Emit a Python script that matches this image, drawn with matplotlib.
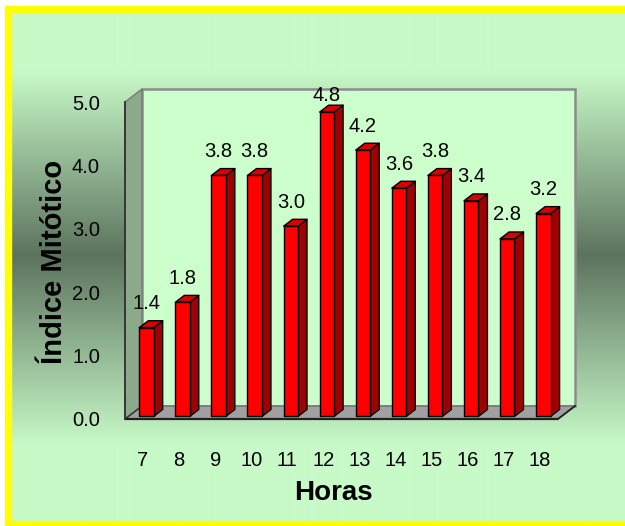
import numpy as np
import matplotlib
matplotlib.use("Agg")
import matplotlib.pyplot as plt
from matplotlib.patches import Polygon, Rectangle

plt.rcParams['font.family'] = ['Liberation Sans', 'DejaVu Sans']

# ---- data ----
horas = [7, 8, 9, 10, 11, 12, 13, 14, 15, 16, 17, 18]
indice = [1.4, 1.8, 3.8, 3.8, 3.0, 4.8, 4.2, 3.6, 3.8, 3.4, 2.8, 3.2]
y_ticks = [0.0, 1.0, 2.0, 3.0, 4.0, 5.0]
x_title = "Horas"
y_title = "Índice Mitótico"

W, H = 625, 526
fig = plt.figure(figsize=(W / 100, H / 100), dpi=100, facecolor='white')

# ---- background panel (pixel coordinates) ----
bg = fig.add_axes([0, 0, 1, 1], zorder=0)
bg.set_xlim(0, W)
bg.set_ylim(H, 0)
bg.axis('off')

rows = np.arange(H)
light = np.array([200, 250, 200]) / 255
dark = np.array([92, 115, 94]) / 255
t = np.interp(rows, [0, 70, 255, 445, H], [0, 0, 1, 0, 0])
grad = light[None, :] * (1 - t[:, None]) + dark[None, :] * t[:, None]
bg.imshow(grad[:, None, :], extent=(5, W, H, 0), aspect='auto',
          interpolation='bilinear', zorder=0)
bg.add_patch(Rectangle((0, 0), W, 6, color='white', zorder=1))
bg.add_patch(Rectangle((5, 6), W, 6, color='#ffff00', zorder=2))
bg.add_patch(Rectangle((5, 6), 6, H, color='#ffff00', zorder=2))
bg.add_patch(Rectangle((5, 521), W, 6, color='#ffff00', zorder=2))

bg.text(333, 500, x_title, ha='center', va='baseline', fontsize=20,
        fontweight='bold', zorder=3)
bg.text(62.5, 262, y_title, rotation=90, rotation_mode='anchor',
        ha='center', va='baseline', fontsize=21, fontweight='bold', zorder=3)

# ---- chart axes (front plane) ----
ax = fig.add_axes([125 / W, 1 - 419 / H, 433 / W, 317 / H], zorder=1)
n = len(horas)
ax.set_xlim(-0.5, n - 0.5)
ax.set_ylim(y_ticks[0], y_ticks[-1])
ax.patch.set_visible(False)
for s in ax.spines.values():
    s.set_visible(False)
ax.set_xticks(range(n), [str(h) for h in horas])
ax.set_yticks(y_ticks, [f"{v:.1f}" for v in y_ticks])
ax.tick_params(length=0, labelsize=14.5)
ax.tick_params(axis='y', pad=18)
ax.tick_params(axis='x', pad=23)

# pixel size of one data unit, for the oblique depth offset
p0 = ax.transData.transform((0, 0))
p1 = ax.transData.transform((1, 1))
ux, uy = p1 - p0
DX, DY = 17, 13  # full depth offset in pixels


def P(x, v, d):
    return (x + d * DX / ux, v + d * DY / uy)


x0, x1 = -0.5, n - 0.5
v0, v1 = y_ticks[0], y_ticks[-1]

# back wall
ax.add_patch(Polygon([P(x0, v0, 1), P(x1, v0, 1), P(x1, v1, 1), P(x0, v1, 1)],
                     closed=True, fc='#ccffcc', ec='#8c8c8c', lw=1.8,
                     clip_on=False, zorder=1))
# side wall
ax.add_patch(Polygon([P(x0, v0, 0), P(x0, v0, 1), P(x0, v1, 1), P(x0, v1, 0)],
                     closed=True, fc='#8aaa8a', ec='#7a7a7a', lw=1.0,
                     clip_on=False, zorder=1.1))
# floor
ax.add_patch(Polygon([P(x0, v0, 0), P(x1, v0, 0), P(x1, v0, 1), P(x0, v0, 1)],
                     closed=True, fc='#a0a0a0', ec='#707070', lw=1.0,
                     clip_on=False, zorder=1.2))
# dark front edges
ax.plot([x0, x1], [v0, v0], color='#202020', lw=1.6, clip_on=False, zorder=1.3,
        solid_capstyle='butt')
ax.plot([x0, x0], [v0, v1], color='#303030', lw=1.3, clip_on=False, zorder=1.3)
ax.plot(*zip(P(x1, v0, 0), P(x1, v0, 1)), color='#202020', lw=1.3,
        clip_on=False, zorder=1.3)
ax.plot(*zip(P(x0, v0, 0), P(x0, v0, 1)), color='#303030', lw=1.0,
        clip_on=False, zorder=1.3)

# bars
hw = 0.2            # half width of the front face (category units)
d0, d1 = 0.2, 0.73  # depth span of each bar
label_max = v1 + 1.3 / uy
for i, v in enumerate(indice):
    front = [P(i - hw, 0, d0), P(i + hw, 0, d0), P(i + hw, v, d0), P(i - hw, v, d0)]
    side = [P(i + hw, 0, d0), P(i + hw, 0, d1), P(i + hw, v, d1), P(i + hw, v, d0)]
    top = [P(i - hw, v, d0), P(i + hw, v, d0), P(i + hw, v, d1), P(i - hw, v, d1)]
    ax.add_patch(Polygon(side, closed=True, fc='#a00000', ec='black', lw=1.0,
                         joinstyle='round', clip_on=False, zorder=2))
    ax.add_patch(Polygon(top, closed=True, fc='#d80000', ec='black', lw=1.0,
                         joinstyle='round', clip_on=False, zorder=2))
    ax.add_patch(Polygon(front, closed=True, fc='#ff0000', ec='black', lw=1.0,
                         joinstyle='round', clip_on=False, zorder=2.1))
    lx = P(i, v, d0)[0]
    ly = min(v + 21 / uy, label_max)
    ax.text(lx, ly, f"{v:.1f}", ha='center', va='baseline', fontsize=14.5,
            zorder=3, clip_on=False)

fig.savefig("out.png", dpi=100, facecolor=fig.get_facecolor())
